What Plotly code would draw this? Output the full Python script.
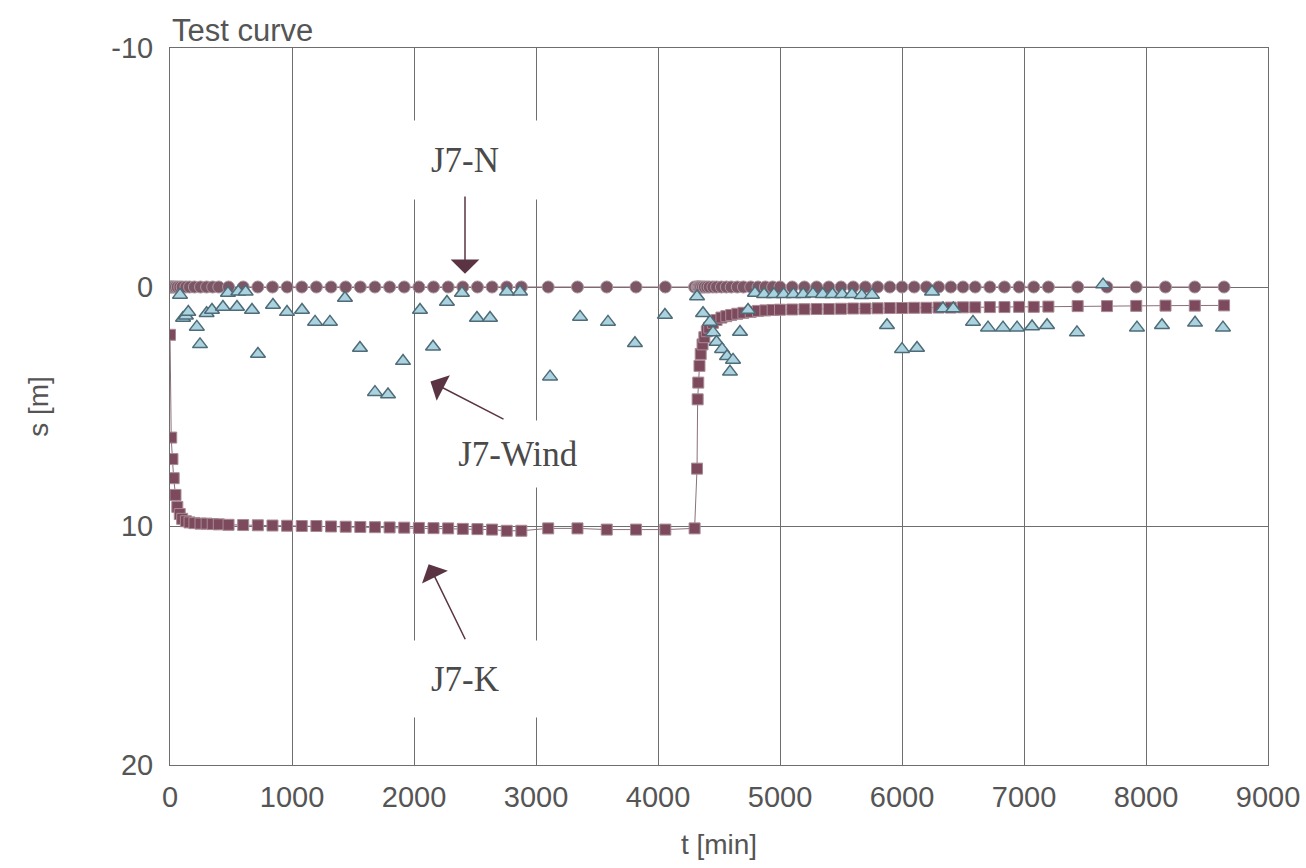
import plotly.graph_objects as go

# Logger times [min] shared by the J7-N and J7-K records
t_log = [0, 10, 20, 30, 45, 60, 80, 100, 130, 160, 200, 250, 300, 350, 400,
         480, 600, 720, 840, 960, 1080, 1200, 1320, 1440, 1560, 1680, 1800,
         1920, 2040, 2160, 2280, 2400, 2520, 2640, 2760, 2880,
         3100, 3340, 3580, 3820, 4060, 4300,
         4320, 4325, 4330, 4340, 4350, 4365, 4380, 4400, 4420, 4450, 4480,
         4520, 4560, 4600, 4650, 4700, 4760, 4820, 4880, 4940, 5000,
         5100, 5200, 5300, 5400, 5500, 5600, 5700, 5800, 5900, 6000, 6100,
         6200, 6300, 6400, 6500, 6600, 6720, 6840, 6960, 7080, 7200,
         7440, 7680, 7920, 8160, 8400, 8640]

# J7-N drawdown [m]
s_n = [0.0, 0.0, 0.0, 0.0, 0.0, 0.0, 0.0, 0.0, 0.0, 0.0, 0.0, 0.0, 0.0, 0.0, 0.0,
       0.0, 0.0, 0.0, 0.0, 0.0, 0.0, 0.0, 0.0, 0.0, 0.0, 0.0, 0.0,
       0.0, 0.0, 0.0, 0.0, 0.0, 0.0, 0.0, 0.0, 0.0,
       0.0, 0.0, 0.0, 0.0, 0.0, 0.0,
       0.0, 0.0, 0.0, 0.0, 0.0, 0.0, 0.0, 0.0, 0.0, 0.0, 0.0,
       0.0, 0.0, 0.0, 0.0, 0.0, 0.0, 0.0, 0.0, 0.0, 0.0,
       0.0, 0.0, 0.0, 0.0, 0.0, 0.0, 0.0, 0.0, 0.0, 0.0, 0.0,
       0.0, 0.0, 0.0, 0.0, 0.0, 0.0, 0.0, 0.0, 0.0, 0.0,
       0.0, 0.0, 0.0, 0.0, 0.0, 0.0]

# J7-K drawdown [m]
s_k = [2.0, 6.3, 7.2, 8.0, 8.7, 9.2, 9.5, 9.7, 9.8, 9.85, 9.88, 9.9, 9.9, 9.92, 9.93,
       9.95, 9.96, 9.97, 9.98, 9.99, 10.0, 10.0, 10.02, 10.03, 10.04, 10.05, 10.06,
       10.07, 10.08, 10.09, 10.1, 10.12, 10.13, 10.15, 10.2, 10.2,
       10.1, 10.1, 10.15, 10.15, 10.15, 10.1,
       7.6, 4.7, 4.0, 3.3, 2.8, 2.4, 2.1, 1.85, 1.7, 1.5, 1.38,
       1.28, 1.22, 1.17, 1.12, 1.08, 1.04, 1.0, 0.98, 0.96, 0.95,
       0.94, 0.93, 0.92, 0.92, 0.91, 0.9, 0.9, 0.89, 0.88, 0.88, 0.87,
       0.87, 0.86, 0.86, 0.85, 0.85, 0.84, 0.84, 0.83, 0.83, 0.82,
       0.8, 0.8, 0.79, 0.78, 0.78, 0.77]

# J7-Wind readings
t_wind = [82, 107, 130, 150, 220, 246, 300, 344, 434, 475, 549, 560, 620, 672, 721,
          844, 959, 1082, 1189, 1311, 1434, 1557, 1680, 1787, 1910, 2049, 2156,
          2270, 2393, 2516, 2623, 2762, 2869, 3115, 3361, 3590, 3811, 4057,
          4320, 4369, 4426, 4451, 4480, 4525, 4566, 4590, 4615, 4672, 4738, 4795,
          4870, 4950, 5030, 5110, 5190, 5270, 5350, 5430, 5510, 5590, 5670, 5754,
          5877, 6000, 6123, 6246, 6336, 6420, 6582, 6705, 6828, 6943, 7066, 7189,
          7434, 7648, 7926, 8131, 8402, 8631]
s_wind = [0.33, 1.3, 1.2, 1.05, 1.67, 2.4, 1.1, 0.96, 0.84, 0.25, 0.84, 0.2, 0.2, 0.96, 2.8,
          0.75, 1.05, 0.96, 1.46, 1.46, 0.46, 2.55, 4.4, 4.5, 3.1, 0.96, 2.5,
          0.63, 0.25, 1.3, 1.3, 0.2, 0.2, 3.75, 1.25, 1.46, 2.35, 1.17,
          0.4, 1.1, 1.46, 1.9, 2.3, 2.6, 2.9, 3.55, 3.05, 1.88, 0.96, 0.25,
          0.3, 0.3, 0.3, 0.3, 0.3, 0.28, 0.3, 0.3, 0.3, 0.3, 0.35, 0.33,
          1.6, 2.6, 2.55, 0.2, 0.9, 0.9, 1.46, 1.7, 1.7, 1.7, 1.65, 1.6,
          1.9, -0.1, 1.7, 1.6, 1.5, 1.7]

x_ticks = [0, 1000, 2000, 3000, 4000, 5000, 6000, 7000, 8000, 9000]
y_ticks = [-10, 0, 10, 20]
y_tick_text = ["-10", "0", "10", "20"]

axis_col = "#6e6e6e"
text_col = "#555555"
sans = "Arial, Liberation Sans, sans-serif"
label_font = dict(family="Liberation Serif, Times New Roman, serif", size=35, color="#4a4a4a")
arrow_col = "#5a3442"

fig = go.Figure()

fig.add_trace(go.Scatter(
    x=t_log, y=s_k, mode="lines+markers", name="J7-K",
    line=dict(color="#8a7078", width=1),
    marker=dict(symbol="square", size=11, color="#7c4a5c",
                line=dict(color="#a88a95", width=1)),
))
fig.add_trace(go.Scatter(
    x=t_log, y=s_n, mode="lines+markers", name="J7-N",
    line=dict(color="#8a6a74", width=1),
    marker=dict(symbol="circle", size=12, color="#7d5666",
                line=dict(color="#a8949c", width=1)),
))
fig.add_trace(go.Scatter(
    x=t_wind, y=s_wind, mode="markers", name="J7-Wind",
    marker=dict(symbol="triangle-up", size=13, color="#aad3df",
                line=dict(color="#4e6b78", width=1.5)),
))

annotations = [
    dict(x=0, y=1, xref="paper", yref="paper", xanchor="left", yanchor="bottom",
         text="Test curve", showarrow=False, xshift=0, yshift=-2,
         font=dict(family=sans, size=31, color=text_col)),
    # series labels on white boxes
    dict(x=2420, y=-5.3, text="J7-N", showarrow=False, font=label_font,
         bgcolor="white", width=150, height=76),
    dict(x=2852, y=7.0, text="J7-Wind", showarrow=False, font=label_font,
         bgcolor="white", width=160, height=64),
    dict(x=2420, y=16.4, text="J7-K", showarrow=False, font=label_font,
         bgcolor="white", width=150, height=74),
    # pointers
    dict(x=2418, y=-0.55, ax=2418, ay=-3.85, axref="x", ayref="y", text="",
         showarrow=True, arrowhead=1, arrowsize=3.2, arrowwidth=1.5, arrowcolor=arrow_col),
    dict(x=2135, y=3.95, ax=2746, ay=5.56, axref="x", ayref="y", text="",
         showarrow=True, arrowhead=1, arrowsize=3.2, arrowwidth=1.5, arrowcolor=arrow_col),
    dict(x=2120, y=11.6, ax=2426, ay=14.8, axref="x", ayref="y", text="",
         showarrow=True, arrowhead=1, arrowsize=3.2, arrowwidth=1.5, arrowcolor=arrow_col),
]

fig.update_layout(
    width=1306, height=868,
    margin=dict(l=170, r=38, t=48, b=103),
    paper_bgcolor="white", plot_bgcolor="white",
    showlegend=False,
    font=dict(family=sans, size=29, color=text_col),
    annotations=annotations,
)

fig.update_xaxes(
    range=[0, 9000], tickvals=x_ticks, ticks="", automargin=False,
    tickfont=dict(family=sans, size=29, color=text_col), ticklabelstandoff=6,
    showgrid=True, gridcolor=axis_col, gridwidth=1,
    zeroline=False, showline=True, linecolor=axis_col, linewidth=1, mirror=True,
    title=dict(text="t [min]", standoff=22, font=dict(family=sans, size=28, color=text_col)),
)
fig.update_yaxes(
    range=[20, -10], tickvals=y_ticks, ticktext=y_tick_text, ticks="", automargin=False,
    tickfont=dict(family=sans, size=29, color=text_col), ticklabelstandoff=10,
    showgrid=True, gridcolor=axis_col, gridwidth=1,
    zeroline=False, showline=True, linecolor=axis_col, linewidth=1, mirror=True,
    title=dict(text="s [m]", standoff=54, font=dict(family=sans, size=28, color=text_col)),
)

fig.write_html("out.html")
